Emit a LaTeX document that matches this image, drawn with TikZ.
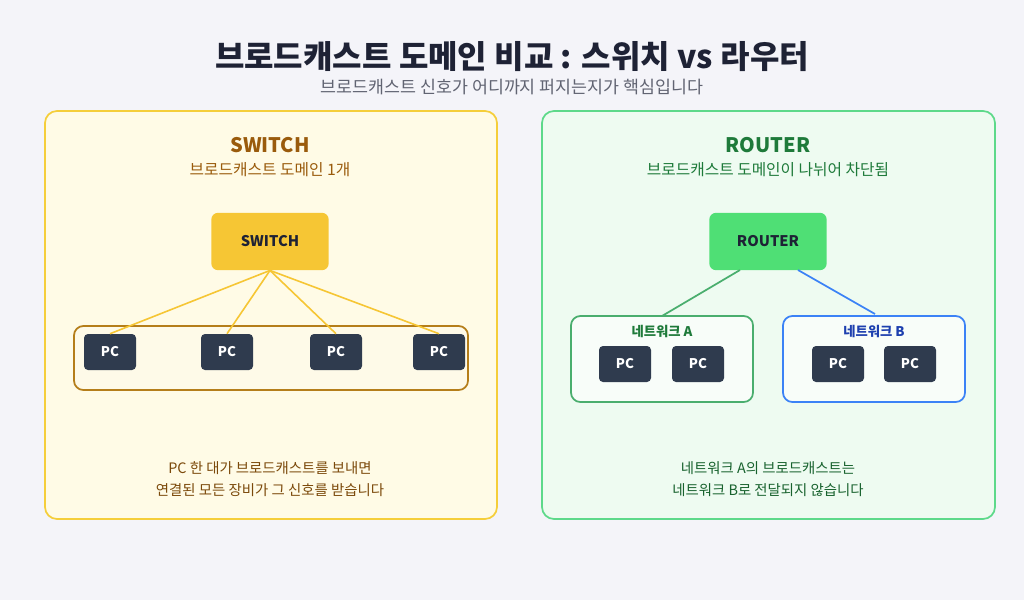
\documentclass[tikz,border=0pt]{standalone}
\usepackage{fontspec}
\setmainfont{Noto Sans CJK KR}
\begin{document}
\begin{tikzpicture}[x=0.75pt,y=-0.75pt,
  pc/.style={draw=none,fill=pcc,rounded corners=3pt,minimum width=39pt,minimum height=27pt,text=white,font=\bfseries\fontsize{10}{12}\selectfont},
  hub/.style={rounded corners=5pt,minimum width=88pt,minimum height=43pt,font=\bfseries\fontsize{11}{13}\selectfont,text=ink},
  panel/.style={rounded corners=9pt,line width=1.3pt},
  lbl/.style={font=\fontsize{10.8}{13}\selectfont,align=center}]
\definecolor{bg}{HTML}{F4F4F9}\definecolor{ink}{HTML}{1E2235}\definecolor{pcc}{HTML}{2F3B4E}
\definecolor{ybg}{HTML}{FFFBE6}\definecolor{yb}{HTML}{F5CE3A}\definecolor{ybr}{HTML}{9A5B0C}
\definecolor{gbg}{HTML}{EEFBF1}\definecolor{gb}{HTML}{5DD98A}\definecolor{gd}{HTML}{1E7A3A}
\definecolor{bl}{HTML}{3B82F6}\definecolor{bd}{HTML}{1E40AF}
\fill[bg] (0,0) rectangle (1024,600);
\useasboundingbox (0,0) rectangle (1024,600);
\node[text=ink,font=\bfseries\fontsize{24}{28}\selectfont] (title) at (512,57) {브로드캐스트 도메인 비교 : 스위치 vs 라우터};
\node[text=ink!70,font=\fontsize{13}{15}\selectfont] (sub) at (512,87) {브로드캐스트 신호가 어디까지 퍼지는지가 핵심입니다};
% left
\draw[panel,fill=ybg,draw=yb] (45,111) rectangle (497,519);
\node[text=ybr,font=\bfseries\fontsize{15}{18}\selectfont] (lt) at (270,145) {SWITCH};
\node[text=ybr,font=\fontsize{11.8}{14}\selectfont] (ls) at (270,170) {브로드캐스트 도메인 1개};
\draw[rounded corners=7pt,line width=1.3pt,draw=ybr!70!yb,fill=ybg!70!yb!30] (74,326) rectangle (468,390);
\node[hub,fill=yb!90!orange] (sw) at (270,241.5) {SWITCH};
\foreach \i/\x in {1/110,2/227,3/336,4/439} {
  \node[pc] (p\i) at (\x,352) {PC};
  \draw[yb!90!orange,line width=1.2pt] (sw.south) -- (p\i.north);}
\node[text=ybr!80!black,lbl] (lb) at (270,479) {PC 한 대가 브로드캐스트를 보내면\\[3pt]연결된 모든 장비가 그 신호를 받습니다};
% right
\draw[panel,fill=gbg,draw=gb] (542,111) rectangle (995,519);
\node[text=gd,font=\bfseries\fontsize{15}{18}\selectfont] (rt) at (768,145) {ROUTER};
\node[text=gd,font=\fontsize{11.8}{14}\selectfont] (rs) at (768,170) {브로드캐스트 도메인이 나뉘어 차단됨};
\node[hub,fill=gb!85!green] (rt1) at (768,241.5) {ROUTER};
\draw[rounded corners=7pt,line width=1.3pt,draw=gb!80!black,fill=white!60!gbg] (571,316) rectangle (753,402);
\draw[rounded corners=7pt,line width=1.3pt,draw=bl,fill=white!60!gbg] (783,316) rectangle (965,402);
\coordinate (na) at (662,316); \coordinate (nb) at (875,314);
\node[text=gd,font=\bfseries\fontsize{10}{12}\selectfont] (la) at (662,331) {네트워크 A};
\node[text=bd,font=\bfseries\fontsize{10}{12}\selectfont] (lbB) at (874,331) {네트워크 B};
\coordinate (ra) at (740,270); \coordinate (rb) at (798,270);
\draw[gb!80!black,line width=1.3pt] (ra) -- (na);
\draw[bl,line width=1.3pt] (rb) -- (nb);
\node[pc] (a1) at (625,364) {PC}; \node[pc] (a2) at (698,364) {PC};
\node[pc] (b1) at (838,364) {PC}; \node[pc] (b2) at (910,364) {PC};
\node[text=gd!80!black,lbl] (rb2) at (768,479) {네트워크 A의 브로드캐스트는\\[3pt]네트워크 B로 전달되지 않습니다};
\end{tikzpicture}
\end{document}
